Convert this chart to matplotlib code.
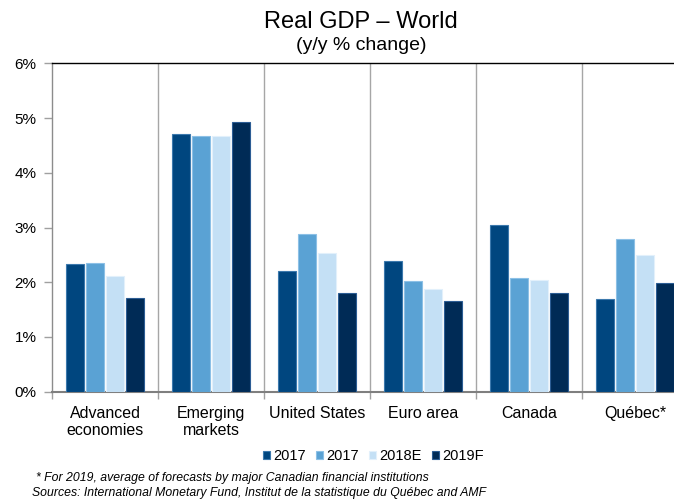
import numpy as np
import matplotlib
matplotlib.use('Agg')
from matplotlib import pyplot as plt

plt.rcParams['font.family'] = ['Liberation Sans', 'DejaVu Sans']

# Données
categories = ['Advanced\neconomies', 'Emerging\nmarkets', 'United States',
              'Euro area', 'Canada', 'Québec*']
series_labels = ['2017', '2017', '2018E', '2019F']
v_2017a = [2.33, 4.71, 2.21, 2.38, 3.05, 1.70]
v_2017b = [2.35, 4.67, 2.88, 2.02, 2.07, 2.79]
v_2018e = [2.12, 4.67, 2.53, 1.87, 2.04, 2.50]
v_2019f = [1.71, 4.92, 1.81, 1.66, 1.81, 1.99]
y_ticks = [0, 1, 2, 3, 4, 5, 6]

colors = ['#00467f', '#5aa2d4', '#c4e0f5', '#002b56']
edges = ['#3c79ad', '#8cc0e6', '#e2f0fb', '#2c5d94']

fig = plt.figure(figsize=(6.74, 5.0), dpi=100)
# l'axe déborde à droite, comme dans l'original
ax = fig.add_axes([52 / 674, (500 - 391.7) / 500, 636 / 674, (391.7 - 63.3) / 500])

x = np.arange(len(categories))
pitch = 0.19
width = 0.17
for i, vals in enumerate([v_2017a, v_2017b, v_2018e, v_2019f]):
    ax.bar(x + (i - 1.5) * pitch, vals, width, color=colors[i],
           edgecolor=edges[i], linewidth=0.8, label=series_labels[i], zorder=3)

ax.set_xlim(-0.5, len(categories) - 0.5)
ax.set_ylim(0, 6)

# séparateurs verticaux entre les groupes
for b in np.arange(0.5, len(categories) - 0.5, 1):
    ax.axvline(b, color='#a6a6a6', lw=1.0, zorder=1)

ax.set_yticks(y_ticks)
ax.set_yticklabels([f'{t}%' for t in y_ticks], fontsize=11)
ax.tick_params(axis='y', length=6, color='#a0a0a0', width=1, pad=5)

ax.set_xticks(np.arange(-0.5, len(categories), 1))
ax.set_xticklabels([])
ax.tick_params(axis='x', which='major', length=5, color='#a0a0a0', width=1)
ax.set_xticks(x, minor=True)
ax.set_xticklabels(categories, minor=True, fontsize=11.5, linespacing=1.2)
ax.tick_params(axis='x', which='minor', length=0, pad=10)

ax.spines['left'].set_color('#8c8c8c')
ax.spines['left'].set_linewidth(1.0)
ax.spines['bottom'].set_color('#7f7f7f')
ax.spines['bottom'].set_linewidth(1.5)
ax.spines['top'].set_color('black')
ax.spines['top'].set_linewidth(1.0)
ax.spines['right'].set_visible(False)

fig.text(0.536, 0.955, 'Real GDP – World', ha='center', va='center', fontsize=17)
fig.text(0.536, 0.908, '(y/y % change)', ha='center', va='center', fontsize=14)

fig.legend(loc='center', bbox_to_anchor=(0.554, 0.088), ncol=4, frameon=False,
           fontsize=10.5, handlelength=0.5, handleheight=0.5, handletextpad=0.2,
           columnspacing=0.7, borderpad=0)

fig.text(0.053, 0.044, '* For 2019, average of forecasts by major Canadian financial institutions',
         fontsize=8.8, style='italic', va='center')
fig.text(0.048, 0.014, 'Sources: International Monetary Fund, Institut de la statistique du Québec and AMF',
         fontsize=8.8, style='italic', va='center')

fig.savefig('out.png', dpi=100)
